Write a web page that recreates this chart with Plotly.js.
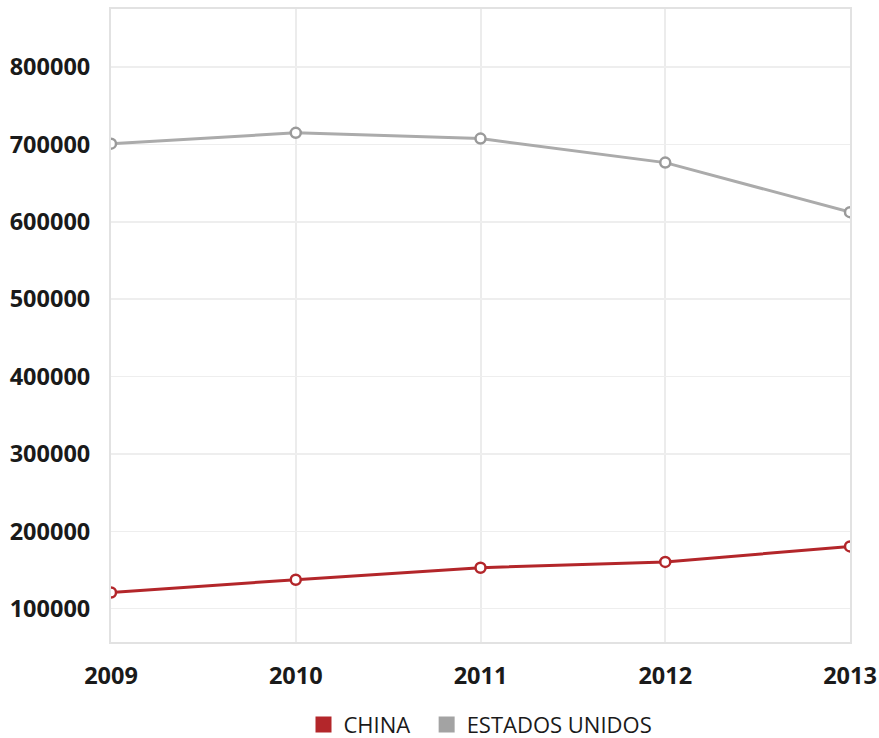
<!DOCTYPE html>
<html>
<head>
<meta charset="utf-8">
<script src="https://cdn.plot.ly/plotly-3.0.1.min.js"></script>
<style>html,body{margin:0;padding:0;background:#fff;}#chart{width:879px;height:738px;}</style>
</head>
<body>
<div id="chart"></div>
<script>
var years = [2009, 2010, 2011, 2012, 2013];
var china = [121000, 137500, 153000, 160500, 180500];
var usa = [701000, 715000, 707500, 676500, 612500];
var yTicks = [100000, 200000, 300000, 400000, 500000, 600000, 700000, 800000];
var seriesNames = ['CHINA', 'ESTADOS UNIDOS'];

var red = '#b3262a', gray = '#ababab';
var tickFont = {family: 'Open Sans, sans-serif', size: 23.5, color: '#1a1a1a', weight: 'bold'};

var data = [
  {x: years, y: usa, mode: 'lines+markers', showlegend: false,
   line: {color: gray, width: 3},
   marker: {symbol: 'circle', size: 10, color: '#fff', line: {color: '#9a9a9a', width: 2.5}}},
  {x: years, y: china, mode: 'lines+markers', showlegend: false,
   line: {color: red, width: 3},
   marker: {symbol: 'circle', size: 10, color: '#fff', line: {color: red, width: 2.5}}},
  {x: [null], y: [null], mode: 'markers', name: seriesNames[0] + '\u00a0\u00a0',
   marker: {symbol: 'square', size: 16, color: red}},
  {x: [null], y: [null], mode: 'markers', name: seriesNames[1],
   marker: {symbol: 'square', size: 16, color: '#a3a3a3'}}
];

var layout = {
  width: 879, height: 738,
  margin: {l: 111, r: 29, t: 9, b: 96, autoexpand: false},
  paper_bgcolor: '#fff', plot_bgcolor: '#fff',
  xaxis: {
    range: [2009, 2013], tickvals: years, tickformat: 'd',
    showgrid: true, gridcolor: '#ececec', gridwidth: 2,
    zeroline: false, showline: true, mirror: true, linecolor: '#e2e2e2', linewidth: 2,
    tickfont: tickFont, ticks: '', ticklabelstandoff: 12, fixedrange: true
  },
  yaxis: {
    range: [57000, 875000], tickvals: yTicks, tickformat: 'd',
    showgrid: true, gridcolor: '#eeeeee', gridwidth: 1.5,
    zeroline: false, showline: true, mirror: true, linecolor: '#e2e2e2', linewidth: 2,
    tickfont: tickFont, ticks: '', ticklabelstandoff: 14, fixedrange: true
  },
  legend: {
    orientation: 'h', x: 0.5, xanchor: 'center',
    yref: 'container', y: 0.018, yanchor: 'middle',
    font: {family: 'Open Sans, sans-serif', size: 22, color: '#1a1a1a'},
    itemwidth: 30
  },
  showlegend: true
};

Plotly.newPlot('chart', data, layout, {displayModeBar: false, staticPlot: true});
</script>
</body>
</html>
